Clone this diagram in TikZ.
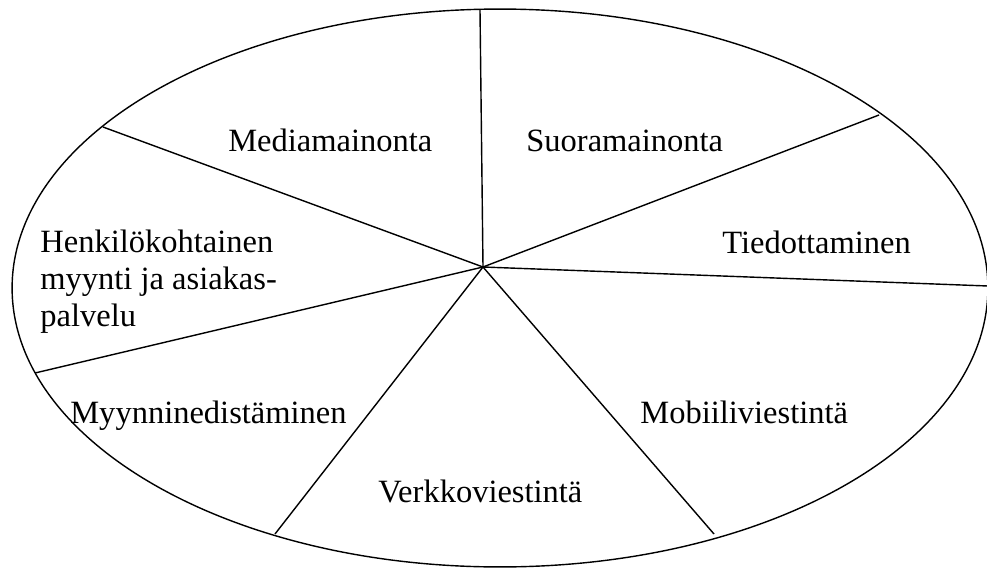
\documentclass[tikz,border=0pt]{standalone}
\usepackage{fontspec}
\setmainfont{Liberation Serif}

\tikzset{
    label/.style={anchor=base west, inner sep=0pt, font=\fontsize{18.5}{20.8}\selectfont},
    divider/.style={line width=0.8pt}
}

\begin{document}
\begin{tikzpicture}[x=0.02cm, y=-0.02cm]
    \useasboundingbox (0,0) rectangle (987,568);

    % Outer ellipse
    \draw[line width=0.8pt] (500,288) ellipse [x radius=9.76cm, y radius=5.58cm];

    % Centre and rim points
    \coordinate (C) at (483,267);
    \coordinate (Top) at (480,10);
    \coordinate (UL) at (103,127);
    \coordinate (UR) at (879,115);
    \coordinate (R) at (988,286);
    \coordinate (LR) at (714,534);
    \coordinate (LB) at (275,534);
    \coordinate (L) at (35,373);

    % Draw dividers
    \draw[divider] (C) -- (Top);
    \draw[divider] (C) -- (UL);
    \draw[divider] (C) -- (UR);
    \draw[divider] (C) -- (R);
    \draw[divider] (C) -- (LR);
    \draw[divider] (C) -- (LB);
    \draw[divider] (C) -- (L);

    % Sector labels
    \node[label] (media) at (228,151) {Mediamainonta};
    \node[label] (suora) at (526,151) {Suoramainonta};
    \node[label] (tiedot) at (722,253) {Tiedottaminen};
    \node[label, align=left] (henk) at (40,326) {Henkilökohtainen\\myynti ja asiakas-\\palvelu};
    \node[label] (myynn) at (70,423) {Myynninedistäminen};
    \node[label] (mobiili) at (640,423) {Mobiiliviestintä};
    \node[label] (verkko) at (378,502) {Verkkoviestintä};
\end{tikzpicture}
\end{document}
